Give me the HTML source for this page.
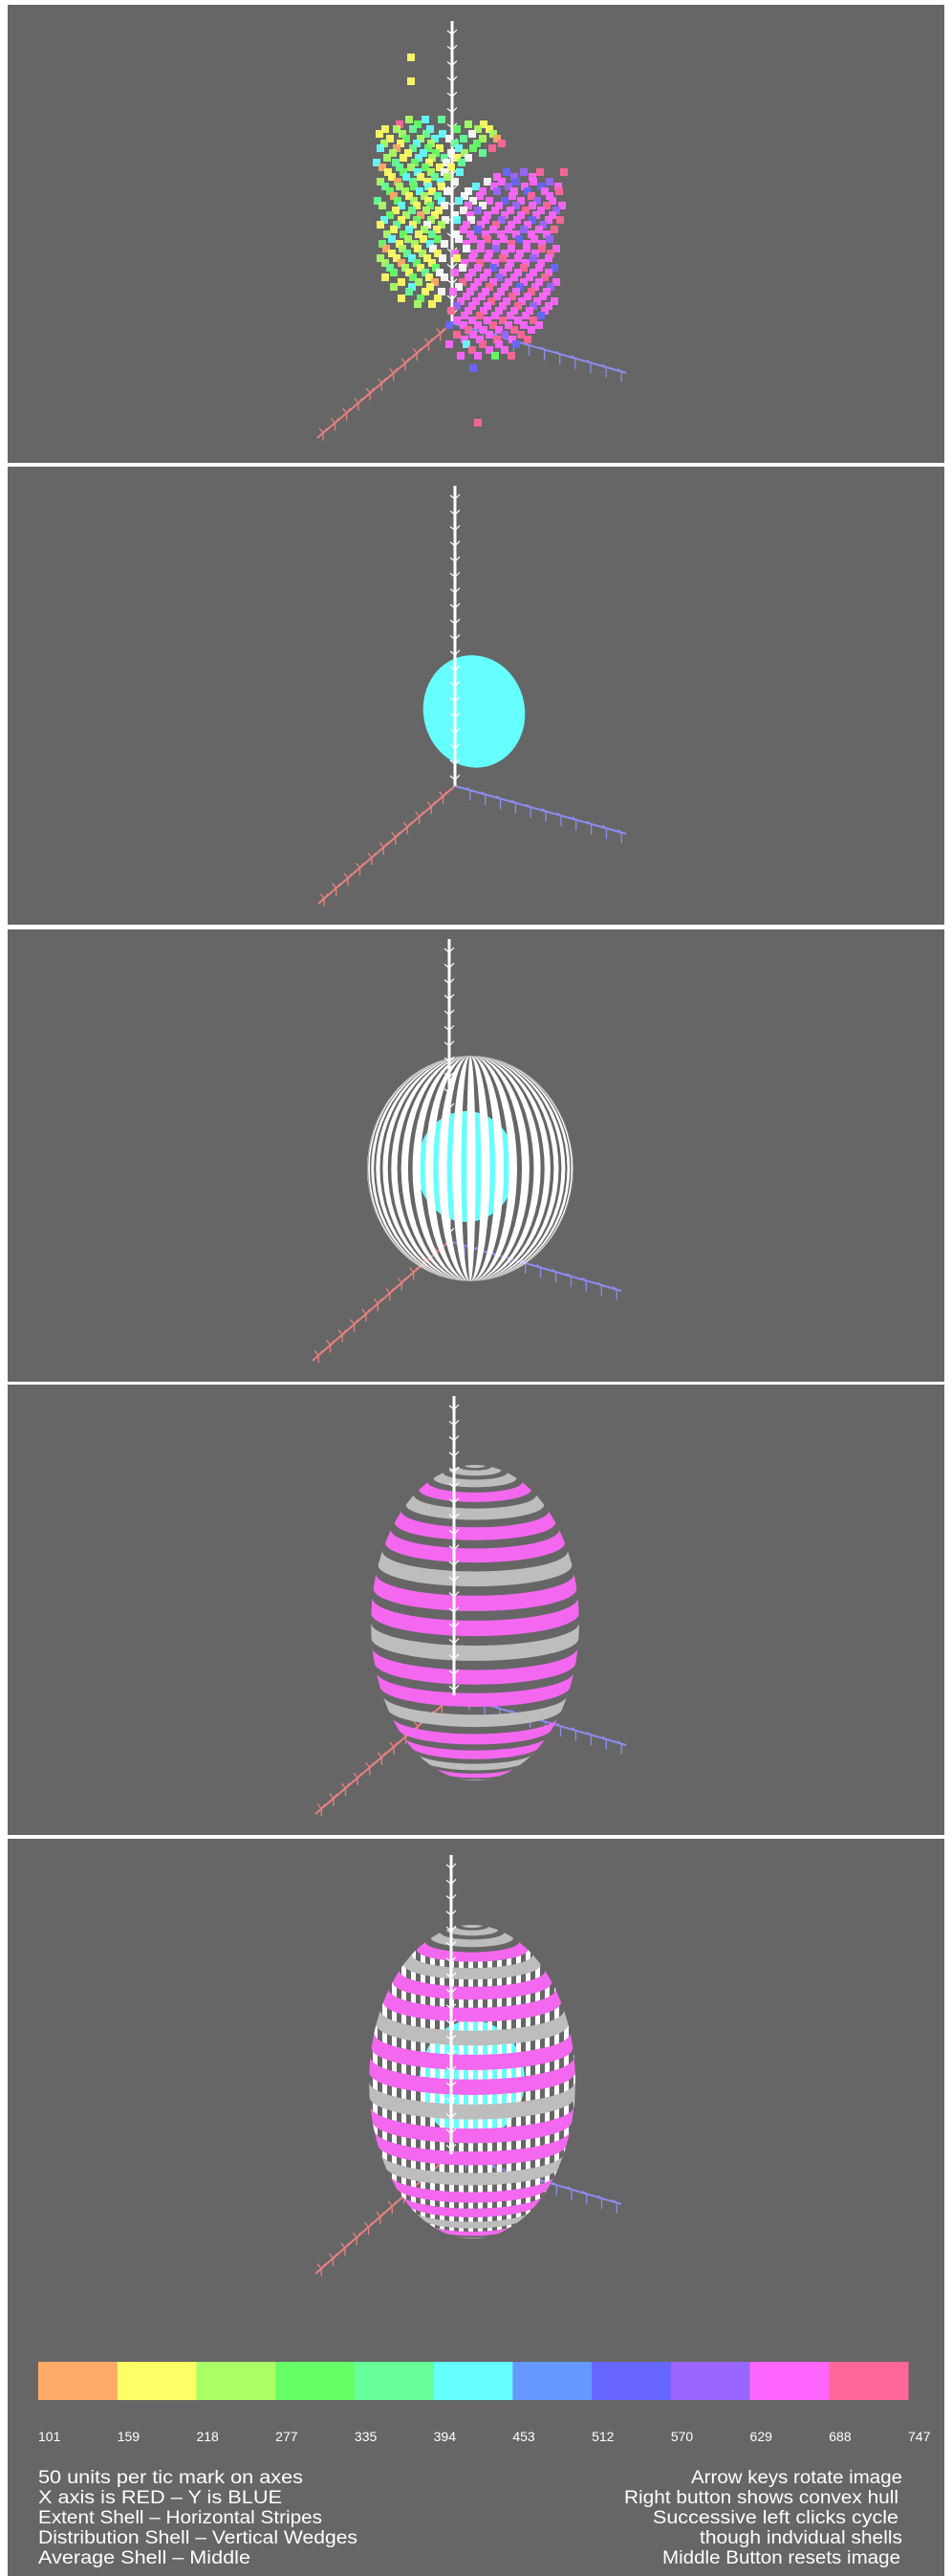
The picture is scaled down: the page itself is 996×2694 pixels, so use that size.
<!DOCTYPE html>
<html><head><meta charset="utf-8"><title>3D shells</title>
<style>html,body{margin:0;padding:0;background:#fff}svg{display:block}</style></head>
<body>
<svg id="root" width="996" height="2694" viewBox="0 0 996 2694" xmlns="http://www.w3.org/2000/svg">
<defs>
<pattern id="wedge" patternUnits="userSpaceOnUse" width="10" height="10"><rect x="0" y="0" width="5" height="10" fill="#ffffff"/></pattern>
<clipPath id="clip4"><ellipse cx="497" cy="1697" rx="109" ry="165"/></clipPath>
<clipPath id="clip5"><ellipse cx="494" cy="2177" rx="108" ry="164"/></clipPath>
<clipPath id="clip3"><ellipse cx="492" cy="1222" rx="108" ry="118"/></clipPath>
</defs>
<rect x="0" y="0" width="996" height="2694" fill="#ffffff"/>
<g id="panels"></g>
<g id="legend"></g>
<g id="notes" font-family="'Liberation Sans', sans-serif" font-size="19" fill="#ffffff">
<text x="40" y="2597" textLength="277" lengthAdjust="spacingAndGlyphs">50   units per tic mark on axes</text>
<text x="40" y="2618" textLength="255" lengthAdjust="spacingAndGlyphs">X axis is  RED – Y is BLUE</text>
<text x="40" y="2639" textLength="297" lengthAdjust="spacingAndGlyphs">Extent Shell – Horizontal Stripes</text>
<text x="40" y="2660" textLength="334" lengthAdjust="spacingAndGlyphs">Distribution Shell – Vertical Wedges</text>
<text x="40" y="2681" textLength="222" lengthAdjust="spacingAndGlyphs">Average Shell – Middle</text>
<text x="723" y="2597" textLength="221" lengthAdjust="spacingAndGlyphs">Arrow keys rotate image</text>
<text x="653" y="2618" textLength="287" lengthAdjust="spacingAndGlyphs">Right button shows convex hull</text>
<text x="683" y="2639" textLength="257" lengthAdjust="spacingAndGlyphs">Successive left clicks cycle</text>
<text x="732" y="2660" textLength="212" lengthAdjust="spacingAndGlyphs">though indvidual shells</text>
<text x="693" y="2681" textLength="249" lengthAdjust="spacingAndGlyphs">Middle Button resets image</text>
</g>
</svg>
<script>
// ---- data ----
const legendValues = [101,159,218,277,335,394,453,512,570,629,688,747];
const legendColors = ['#ffaa66','#ffff66','#aaff66','#66ff66','#66ff99','#66ffff','#6699ff','#6666ff','#9966ff','#ff66ff','#ff6699'];
const pointColors = ['#ffaa66','#ffff66','#aaff66','#66ff66','#66ff99','#66ffff','#6699ff','#6666ff','#9966ff','#ff66ff','#ff6699','#ffffff'];
const pointRows = [
 [60,[[430,1]]],[85,[[430,1]]],[442,[[500,10]]],
 [125,[[428,2],[445,5],[462,4]]],
 [130,[[418,10],[437,3],[490,2],[506,1]]],
 [135,[[403,1],[415,2],[432,4],[450,5],[478,3],[500,2],[512,1]]],
 [140,[[397,1],[421,2],[446,4],[463,5],[494,11],[516,2]]],
 [145,[[408,1],[425,3],[440,2],[455,5],[470,11],[485,4],[505,2],[520,0]]],
 [150,[[402,2],[419,1],[436,5],[451,2],[476,4],[499,3],[525,10]]],
 [155,[[398,5],[415,0],[432,4],[448,3],[460,1],[480,5],[495,3],[515,10]]],
 [160,[[411,2],[427,1],[443,5],[456,3],[472,11],[486,2],[505,4]]],
 [165,[[405,2],[422,1],[438,5],[452,2],[465,4],[478,1],[490,11]]],
 [170,[[394,5],[414,4],[434,3],[449,1],[467,11],[483,4]]],
 [175,[[400,0],[418,4],[430,2],[445,3],[460,1],[472,1]]],
 [180,[[406,1],[422,3],[437,5],[451,2],[465,11],[481,5]]],
 [185,[[410,1],[425,5],[440,1],[455,4],[468,2]]],
 [190,[[398,2],[416,0],[432,4],[447,1],[461,5],[476,11]]],
 [195,[[403,4],[418,2],[433,3],[448,5],[462,1]]],
 [200,[[408,3],[424,2],[439,5],[452,1],[468,11]]],
 [205,[[412,0],[428,1],[444,2],[458,4]]],
 [210,[[395,4],[416,3],[433,2],[448,1],[462,5]]],
 [215,[[400,2],[420,5],[436,1],[450,3],[465,11]]],
 [220,[[414,1],[431,4],[446,2],[459,1]]],
 [225,[[408,3],[425,2],[440,0],[455,1]]],
 [230,[[402,5],[420,1],[436,3],[451,2],[466,11]]],
 [235,[[398,1],[415,4],[432,1],[447,11],[462,2]]],
 [240,[[412,1],[428,5],[444,2],[457,1]]],
 [245,[[405,2],[422,3],[438,1],[452,4]]],
 [250,[[410,5],[427,2],[443,1],[458,3]]],
 [255,[[400,3],[418,1],[434,2],[450,5],[465,11]]],
 [260,[[404,0],[421,2],[437,1],[453,11]]],
 [265,[[410,1],[426,4],[442,2],[458,1]]],
 [270,[[398,2],[415,1],[431,5],[447,1],[463,11]]],
 [275,[[403,2],[420,0],[436,3],[452,1]]],
 [280,[[408,4],[424,2],[440,1],[456,3]]],
 [285,[[412,3],[428,1],[445,4],[460,11]]],
 [290,[[403,1],[432,3],[449,1],[465,11]]],
 [295,[[420,1],[438,2],[455,0]]],
 [300,[[412,2],[431,5],[450,1]]],
 [305,[[428,4],[445,1],[462,11]]],
 [312,[[420,1],[440,3],[458,1]]],
 [318,[[437,2],[452,1]]],
 [180,[[530,7],[548,8],[565,10],[590,10]]],
 [185,[[520,9],[538,8],[557,9]]],
 [190,[[510,11],[525,9],[540,7],[558,9],[575,8]]],
 [195,[[498,5],[517,9],[532,8],[549,9],[566,7],[584,9]]],
 [200,[[490,11],[505,9],[520,8],[538,9],[552,7],[570,9],[585,10]]],
 [205,[[486,11],[502,9],[536,9],[556,10],[575,9]]],
 [210,[[480,5],[495,11],[512,9],[528,7],[545,9],[562,8],[578,9]]],
 [215,[[490,9],[505,11],[522,9],[540,8],[557,9],[572,10],[588,9]]],
 [220,[[485,11],[500,8],[518,9],[534,9],[550,10],[566,9],[582,8]]],
 [225,[[476,11],[492,9],[510,9],[528,9],[545,9],[561,9],[578,9]]],
 [230,[[478,5],[493,11],[508,9],[525,8],[541,9],[557,7],[574,9],[586,10]]],
 [235,[[488,9],[503,9],[519,10],[535,9],[552,9],[568,8]]],
 [240,[[485,9],[500,7],[516,9],[532,9],[548,8],[564,9],[580,10]]],
 [245,[[477,11],[492,9],[508,9],[524,9],[540,9],[556,9],[572,9]]],
 [250,[[480,11],[495,9],[510,10],[527,9],[543,7],[559,9],[575,8]]],
 [255,[[488,9],[503,9],[519,9],[535,10],[551,9],[567,9]]],
 [260,[[488,11],[503,9],[519,8],[535,9],[551,9],[567,10],[582,9]]],
 [265,[[476,9],[496,9],[512,9],[528,9],[544,9],[560,9],[576,10]]],
 [270,[[478,1],[494,9],[510,9],[526,10],[542,9],[558,8],[574,9]]],
 [275,[[486,9],[502,10],[518,9],[534,9],[550,9],[566,9]]],
 [280,[[484,11],[500,9],[516,7],[532,9],[548,10],[564,9],[580,7]]],
 [285,[[476,9],[494,9],[510,9],[526,9],[542,9],[558,9],[574,9]]],
 [290,[[490,9],[506,9],[522,8],[538,9],[554,9],[570,10]]],
 [295,[[484,10],[500,9],[516,9],[532,9],[548,9],[564,9],[582,9]]],
 [300,[[480,11],[496,9],[512,10],[528,9],[544,7],[560,9],[576,8]]],
 [305,[[474,9],[492,9],[508,9],[524,9],[540,9],[556,10],[572,9]]],
 [310,[[488,9],[504,9],[520,9],[536,10],[552,9],[568,9]]],
 [315,[[482,9],[498,9],[514,10],[530,9],[546,9],[562,9],[580,9]]],
 [320,[[478,8],[494,9],[510,9],[526,9],[542,10],[558,8],[574,9]]],
 [325,[[472,10],[490,9],[506,9],[522,9],[538,9],[554,9],[570,9]]],
 [330,[[486,9],[502,10],[518,9],[534,9],[550,9],[566,7]]],
 [335,[[478,9],[494,9],[510,9],[526,10],[542,9],[558,10]]],
 [340,[[470,7],[485,9],[500,9],[516,10],[532,9],[548,9],[564,9]]],
 [345,[[490,10],[506,9],[522,9],[538,10],[556,9]]],
 [350,[[478,10],[495,9],[512,9],[528,8],[545,10]]],
 [355,[[486,9],[502,9],[520,10],[536,9],[552,10]]],
 [360,[[470,9],[488,5],[505,10],[522,9],[540,7]]],
 [366,[[494,10],[512,9],[528,9]]],
 [372,[[482,9],[500,9],[518,3],[535,10]]],
 [385,[[495,7]]]
];
const extentBands4 = ['g','g','g','m','g','m','m','g','m','m','g','m','m','g','m','m','g','m','g','g'];
const extentBands5 = ['g','g','g','m','g','m','m','g','m','m','g','m','m','g','m','m','g','m','g','g'];
const wedgeBands5 = [0,0,0,1,1,1,1,1,1,1,1,1,1,1,1,1,1,0,0,0];

const NS='http://www.w3.org/2000/svg';
function mk(tag, attrs, parent){const e=document.createElementNS(NS,tag);for(const k in attrs)e.setAttribute(k,attrs[k]);parent.appendChild(e);return e;}
const panelsG=document.getElementById('panels');

const panels=[
 {y:5,h:479,ax:473,top:22,oy:338,red:[332,458],blue:[655,390]},
 {y:488,h:479,ax:476,top:508,oy:822,red:[333,945],blue:[655,872]},
 {y:972,h:473,ax:470,top:982,oy:1298,red:[327,1423],blue:[650,1350]},
 {y:1448,h:471,ax:475,top:1460,oy:1773,red:[330,1897],blue:[655,1825]},
 {y:1923,h:771,ax:472,top:1940,oy:2253,red:[330,2378],blue:[650,2305]}
];

function drawGroundAxes(g,p){
  const ox=p.ax, oy=p.oy;
  const red=mk('g',{},g);
  
  
  mk('line',{x1:ox,y1:oy,x2:p.red[0],y2:p.red[1],stroke:'#e88080','stroke-width':2},red);
  for(let i=1;i<=11;i++){const t=i/11.5;const x=ox+(p.red[0]-ox)*t,y=oy+(p.red[1]-oy)*t;
    mk('path',{d:`M${x-4} ${y-5} L${x} ${y} L${x+4} ${y-5} M${x} ${y} L${x} ${y+8}`,stroke:'#e88080','stroke-width':1.3,fill:'none'},red);}
  const blue=mk('g',{},g);
  
  
  mk('line',{x1:ox,y1:oy,x2:p.blue[0],y2:p.blue[1],stroke:'#8c8cf0','stroke-width':2},blue);
  for(let i=1;i<=11;i++){const t=i/11.3;const x=ox+(p.blue[0]-ox)*t,y=oy+(p.blue[1]-oy)*t;
    mk('path',{d:`M${x} ${y} L${x} ${y+11} M${x-4} ${y-3} L${x} ${y}`,stroke:'#8c8cf0','stroke-width':1.3,fill:'none'},blue);}
}
function drawVertAxis(g,p){
  const v=mk('g',{},g);
  
  
  mk('line',{x1:p.ax,y1:p.top,x2:p.ax,y2:p.oy,stroke:'#ffffff','stroke-width':3},v);
  for(let y=p.top+12;y<p.oy-4;y+=16.3){
    mk('path',{d:`M${p.ax-5} ${y-2} L${p.ax} ${y+2} L${p.ax+5} ${y-3}`,stroke:'#ffffff','stroke-width':1.2,fill:'none'},v);}
}

function bandPath(cx,cy,rx,ry,ph1,ph2,k){
  const pts=[];
  const arc=(ph,rev)=>{const yc=cy-ry*Math.sin(ph),rl=rx*Math.cos(ph);const a=[];
    for(let i=0;i<=24;i++){const t=Math.PI*i/24;a.push([cx-rl*Math.cos(t),yc+rl*k*Math.sin(t)]);}
    return rev?a.reverse():a;};
  pts.push(...arc(ph1,false),...arc(ph2,true));
  return 'M'+pts.map(p=>p[0].toFixed(1)+' '+p[1].toFixed(1)).join(' L')+'Z';
}
const bandFill={g:'#bdbdbd',m:'#f468f0'};

panels.forEach((p,idx)=>{
  const g=mk('g',{},panelsG);
  
  
  const bg=mk('rect',{x:8,y:p.y,width:980,height:p.h,fill:'#666666'},g);
  
  
  drawGroundAxes(g,p);
  if(idx===0){
    drawVertAxis(g,p);
    const sg=mk('g',{},g);
    
    
    pointRows.forEach(row=>{row[1].forEach(pt=>{
      const r=mk('rect',{x:pt[0]-4,y:row[0]-4,width:8,height:8,fill:pointColors[pt[1]],opacity:0.92},sg);
      
      
    });});
  }
  if(idx===1){
    const e=mk('ellipse',{cx:496,cy:744,rx:53,ry:59,fill:'#66ffff',transform:'rotate(-12 496 744)'},g);
    
    
    drawVertAxis(g,p);
  }
  if(idx===2){
    drawVertAxis(g,p);
    const e=mk('ellipse',{cx:488,cy:1220,rx:52,ry:58,fill:'#66ffff'},g);
    
    
    const mg=mk('g',{'clip-path':'url(#clip3)'},g);
    
    
    const cx=492,cy=1222,rx=108,ry=118,step=8*Math.PI/180;
    for(let lam=-Math.PI/2;lam<Math.PI/2;lam+=step){
      const a=[],b=[];
      for(let i=0;i<=30;i++){const ph=-Math.PI/2+Math.PI*i/30;
        a.push([cx+rx*Math.cos(ph)*Math.sin(lam),cy-ry*Math.sin(ph)]);
        b.push([cx+rx*Math.cos(ph)*Math.sin(Math.min(lam+step*0.62,Math.PI/2)),cy-ry*Math.sin(ph)]);}
      const pts=a.concat(b.reverse());
      const s=mk('path',{d:'M'+pts.map(q=>q[0].toFixed(1)+' '+q[1].toFixed(1)).join(' L')+'Z',fill:'#ffffff'},mg);
      
      
    }
  }
  if(idx===3||idx===4){
    const cx= idx===3?497:494, cy= idx===3?1697:2177, rx= idx===3?109:108, ry= idx===3?165:164;
    const eg=mk('g',{'clip-path':`url(#clip${idx+1})`},g);
    
    
    const bands= idx===3?extentBands4:extentBands5;
    const n=bands.length, d=Math.PI/n, fr=0.62;
    if(idx===4){
      const c=mk('ellipse',{cx:494,cy:2175,rx:55,ry:62,fill:'#66ffff'},eg);
      
      
      wedgeBands5.forEach((w,i)=>{ if(!w) return;
        const ph1=Math.PI/2-i*d-d*fr, ph2=Math.PI/2-(i+1)*d;
        const b=mk('path',{d:bandPath(cx,cy,rx,ry,ph1,ph2,0.22),fill:'url(#wedge)'},eg);
        
        
      });
    }
    bands.forEach((c,i)=>{
      const ph1=Math.PI/2-i*d, ph2=ph1-d*fr;
      const b=mk('path',{d:bandPath(cx,cy,rx,ry,ph1,ph2,0.22),fill:bandFill[c]},eg);
      
      
      if(i===0){const cap=mk('ellipse',{cx:cx,cy:cy-ry*Math.sin(ph2),rx:rx*Math.cos(ph2),ry:rx*Math.cos(ph2)*0.22,fill:bandFill[c]},eg);
        
        }
    });
    drawVertAxis(g,p);
  }
});

const lg=document.getElementById('legend');
const lx0=40,lx1=950,bw=(lx1-lx0)/legendColors.length;
legendColors.forEach((c,i)=>{
  const r=mk('rect',{x:(lx0+i*bw).toFixed(2),y:2470,width:(bw+0.5).toFixed(2),height:40,fill:c},lg);
  
  
});
legendValues.forEach((v,i)=>{
  const t=mk('text',{x:(lx0+i*bw).toFixed(2),y:2553,fill:'#ffffff','font-family':"'Liberation Sans', sans-serif",'font-size':14},lg);
  t.textContent=v;
  
  
});
</script>
</body></html>
